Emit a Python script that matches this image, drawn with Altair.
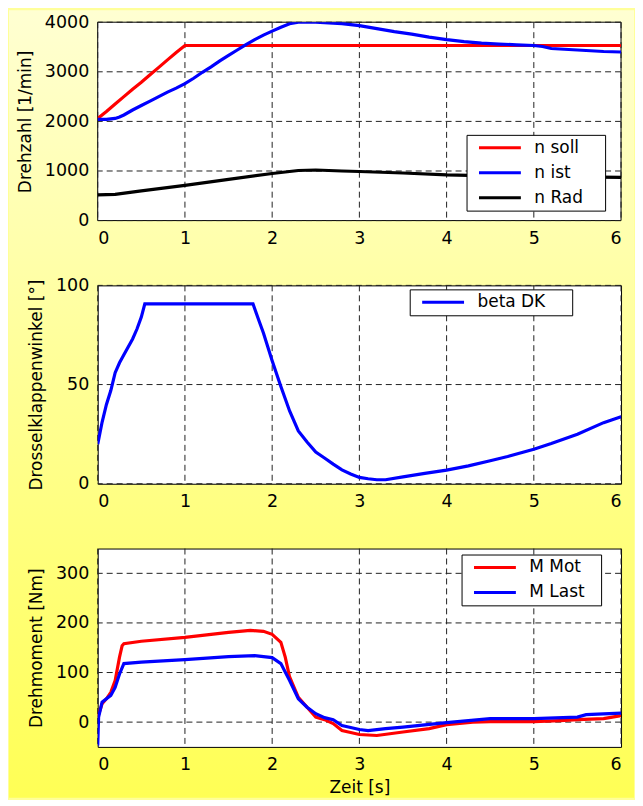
import altair as alt
import pandas as pd

# ---------------- data ----------------
x_ticks = [0, 1, 2, 3, 4, 5, 6]

# Panel 1: Drehzahl [1/min]
n_names = ["n soll", "n ist", "n Rad"]
n_colors = ["#ff0000", "#0000ff", "#000000"]
n_ticks = [0, 1000, 2000, 3000, 4000]

n_soll_t = [0, 0.1, 0.2, 0.3, 0.4, 0.5, 0.6, 0.7, 0.8, 0.9, 1.0, 6.0]
n_soll = [2060, 2200, 2350, 2500, 2650, 2790, 2940, 3090, 3240, 3390, 3530, 3530]

n_ist_t = [0, 0.1, 0.2, 0.25, 0.3, 0.4, 0.5, 0.6, 0.7, 0.8, 0.9, 1.0, 1.1, 1.2, 1.3,
           1.4, 1.5, 1.6, 1.7, 1.8, 1.9, 2.0, 2.1, 2.2, 2.3, 2.4, 2.5, 2.6, 2.8, 3.0,
           3.2, 3.4, 3.6, 3.8, 4.0, 4.2, 4.4, 4.6, 4.8, 5.0, 5.1, 5.2, 5.4, 5.6, 5.8, 6.0]
n_ist = [2040, 2040, 2060, 2090, 2130, 2230, 2320, 2410, 2500, 2590, 2670, 2760, 2870,
         2990, 3100, 3220, 3330, 3440, 3550, 3650, 3740, 3820, 3900, 3970, 4000, 4000,
         4000, 3990, 3970, 3930, 3870, 3810, 3760, 3700, 3650, 3610, 3580, 3560, 3545,
         3530, 3510, 3470, 3450, 3430, 3410, 3400]

n_rad_t = [0, 0.2, 0.5, 1.0, 1.5, 2.0, 2.3, 2.5, 2.8, 3.0, 3.5, 4.0, 4.5, 5.0, 5.5, 6.0]
n_rad = [520, 530, 600, 710, 830, 950, 1010, 1020, 1000, 990, 960, 920, 900, 890, 880, 870]

# Panel 2: Drosselklappenwinkel [°]
b_names = ["beta DK"]
b_colors = ["#0000ff"]
b_ticks = [0, 50, 100]
beta_t = [0, 0.05, 0.1, 0.15, 0.2, 0.25, 0.3, 0.4, 0.45, 0.5, 0.54, 1.78, 1.85, 1.9,
          2.0, 2.1, 2.2, 2.3, 2.4, 2.5, 2.6, 2.7, 2.8, 2.9, 3.0, 3.1, 3.2, 3.3, 3.5,
          3.75, 4.0, 4.25, 4.5, 4.7, 5.0, 5.2, 5.5, 5.8, 6.0]
beta = [20, 31, 40, 47, 56, 61, 65, 73, 78, 84, 90.7, 90.7, 82, 76, 62, 49, 36.7, 26.6,
        21, 16, 13, 9.9, 7, 4.9, 3.2, 2.5, 2, 2, 3.5, 5.2, 6.9, 9, 11.6, 13.7, 17.4,
        20.3, 25, 30.8, 33.8]

# Panel 3: Drehmoment [Nm]
m_names = ["M Mot", "M Last"]
m_colors = ["#ff0000", "#0000ff"]
m_ticks = [0, 100, 200, 300]
m_mot_t = [0, 0.05, 0.1, 0.15, 0.2, 0.25, 0.28, 0.3, 0.5, 1.0, 1.5, 1.75, 1.9, 2.0,
           2.1, 2.15, 2.2, 2.3, 2.4, 2.5, 2.6, 2.7, 2.8, 2.9, 3.0, 3.2, 3.5, 3.8, 4.0,
           4.3, 4.5, 5.0, 5.3, 5.5, 5.8, 6.0]
m_mot = [10, 37, 47, 60, 84, 131, 154, 158, 163, 171, 181, 185, 183, 177, 161, 131, 91,
         50, 30, 10, 5, -3, -17, -21, -25, -27, -20, -13, -5, 0, 1, 1, 3, 5, 7, 13]
m_last_t = [0, 0.01, 0.05, 0.1, 0.15, 0.2, 0.25, 0.3, 0.5, 1.0, 1.5, 1.8, 2.0, 2.1,
            2.2, 2.3, 2.4, 2.5, 2.6, 2.7, 2.8, 2.9, 3.0, 3.1, 3.3, 3.5, 4.0, 4.5, 5.0,
            5.5, 5.6, 6.0]
m_last = [-47, 10, 40, 47, 54, 70, 97, 118, 121, 126, 132, 134, 130, 118, 84, 47, 30,
          17, 9, 5, -7, -11, -15, -17, -13, -10, -1, 7, 7, 10, 15, 18]

# ---------------- helpers ----------------
FONT = "DejaVu Sans"
W, H = 525, 199
GRID = dict(color="#222222", strokeDash=[6, 4], strokeWidth=1)


def long_df(series):
    rows = []
    for name, ts, vs in series:
        for t, v in zip(ts, vs):
            rows.append({"t": t, "v": v, "series": name})
    return pd.DataFrame(rows)


gradient = alt.LinearGradient(
    gradient="linear",
    stops=[alt.GradientStop(offset=0, color="#FFFFD2"),
           alt.GradientStop(offset=0.5, color="#FFFF92"),
           alt.GradientStop(offset=1, color="#FFFF55")],
    x1=0, x2=0, y1=0, y2=1,
)

one = pd.DataFrame({"k": [0]})


def panel(df, names, colors, ydomain, yticks, ytitle, lx, ly, pad_spaces,
          xtitle=None, first=False):
    xaxis = alt.Axis(values=x_ticks, format="d", title=xtitle, titlePadding=6, zindex=1)
    yaxis = alt.Axis(values=yticks, format="d", title=ytitle, zindex=1)
    X = alt.X("t:Q", scale=alt.Scale(domain=[0, 6], nice=False, zero=False), axis=xaxis)
    Y = alt.Y("v:Q", scale=alt.Scale(domain=ydomain, nice=False, zero=False), axis=yaxis)
    layers = []
    if first:
        layers.append(
            alt.Chart(one).mark_rect(fill=gradient, strokeWidth=0).encode(
                x=alt.value(-89), x2=alt.value(538), y=alt.value(-12), y2=alt.value(778))
        )
        layers.append(
            alt.Chart(one).mark_rect(fill="white", stroke="black", strokeWidth=1).encode(
                x=alt.value(0), x2=alt.value(W), y=alt.value(0), y2=alt.value(H))
        )
    layers.append(alt.Chart(pd.DataFrame({"t": x_ticks})).mark_rule(**GRID).encode(x=X))
    layers.append(alt.Chart(pd.DataFrame({"v": yticks})).mark_rule(**GRID).encode(y=Y))
    # invisible trailing padding (non-breaking spaces kept by a zero-width space)
    pad = "\u00a0" * pad_spaces + "\u200b"
    legend = alt.Legend(
        orient="none", legendX=lx, legendY=ly, title=None,
        symbolType="stroke", symbolSize=1764, symbolStrokeWidth=3,
        clipHeight=16, rowPadding=8, padding=5, symbolOffset=6, labelOffset=12,
        labelFont=FONT, labelFontSize=17, labelColor="black", labelLimit=300,
        labelExpr="datum.label + '" + pad + "'",
        strokeColor="black", fillColor="white", zindex=2,
    )
    layers.append(
        alt.Chart(df).mark_line(strokeWidth=3.2, clip=True).encode(
            x=X, y=Y,
            color=alt.Color("series:N", scale=alt.Scale(domain=names, range=colors),
                            legend=legend, sort=names),
        )
    )
    return alt.layer(*layers).properties(width=W, height=H)


df1 = long_df([("n soll", n_soll_t, n_soll), ("n ist", n_ist_t, n_ist), ("n Rad", n_rad_t, n_rad)])
df2 = long_df([("beta DK", beta_t, beta)])
df3 = long_df([("M Mot", m_mot_t, m_mot), ("M Last", m_last_t, m_last)])

p1 = panel(df1, n_names, n_colors, [0, 4000], n_ticks, "Drehzahl [1/min]", 370, 113, 3, first=True)
p2 = panel(df2, b_names, b_colors, [0, 100], b_ticks, "Drosselklappenwinkel [°]", 313, 4, 4)
p3 = panel(df3, m_names, m_colors, [-50, 350], m_ticks, "Drehmoment [Nm]", 365, 6, 2,
           xtitle="Zeit [s]")

chart = (
    alt.vconcat(p1, p2, p3, spacing=65, bounds="flush")
    .resolve_scale(color="independent")
    .properties(padding=0, background="#FFFF9A")
    .configure_view(fill="white", stroke="black", strokeWidth=1)
    .configure_axis(
        labelFont=FONT, labelFontSize=17.5, labelColor="black", labelPadding=9,
        titleFont=FONT, titleFontSize=17, titleColor="black", titleFontWeight="normal",
        titlePadding=10, ticks=False, domain=False, grid=False,
    )
)

chart.save("out.html", embed_options={"renderer": "svg", "actions": False})
